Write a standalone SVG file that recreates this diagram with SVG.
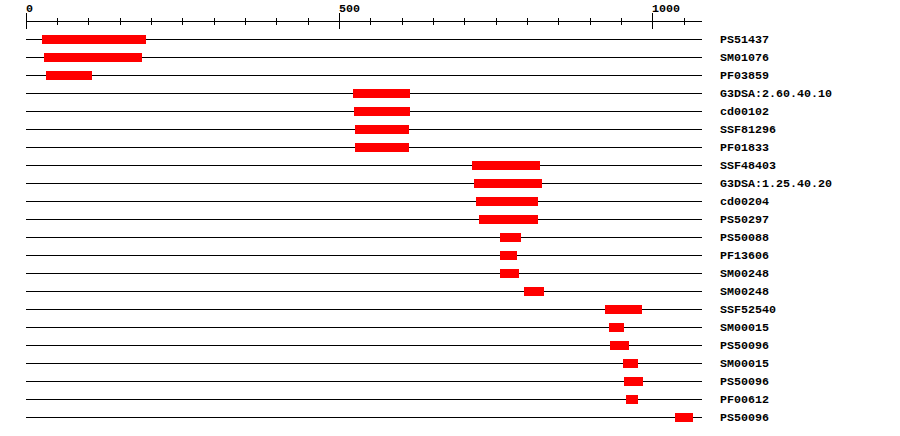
<svg xmlns="http://www.w3.org/2000/svg" width="900" height="436" viewBox="0 0 900 436">
<style>
.t{font-family:"Liberation Mono","DejaVu Sans Mono",monospace;font-weight:bold;font-size:11.67px;fill:#000}
.ln{stroke:#000;stroke-width:1;fill:none}
.bar{fill:#ff0000}
</style>
<rect width="900" height="436" fill="#fff"/>
<g id="axis">
<line class="ln" x1="26" y1="21.5" x2="702" y2="21.5"/>
<path class="ln" d="M26.5 13V29M339.5 13V29M652.5 13V29"/>
<path class="ln" d="M57.5 18V25M88.5 18V25M120.5 18V25M151.5 18V25M182.5 18V25M214.5 18V25M245.5 18V25M276.5 18V25M308.5 18V25M370.5 18V25M402.5 18V25M433.5 18V25M464.5 18V25M496.5 18V25M527.5 18V25M558.5 18V25M590.5 18V25M621.5 18V25M684.5 18V25"/>
<text class="t" x="26" y="11.5">0</text>
<text class="t" x="339" y="11.5">500</text>
<text class="t" x="652" y="11.5">1000</text>
</g>
<g id="connectors">
<path class="ln" d="M26 39.5H702M26 57.5H702M26 75.5H702M26 93.5H702M26 111.5H702M26 129.5H702M26 147.5H702M26 165.5H702M26 183.5H702M26 201.5H702M26 219.5H702M26 237.5H702M26 255.5H702M26 273.5H702M26 291.5H702M26 309.5H702M26 327.5H702M26 345.5H702M26 363.5H702M26 381.5H702M26 399.5H702M26 417.5H702"/>
</g>
<g id="r0"><rect class="bar" x="42" y="35" width="104" height="9"/><text class="t" x="720" y="43">PS51437</text></g>
<g id="r1"><rect class="bar" x="44" y="53" width="98" height="9"/><text class="t" x="720" y="61">SM01076</text></g>
<g id="r2"><rect class="bar" x="46" y="71" width="46" height="9"/><text class="t" x="720" y="79">PF03859</text></g>
<g id="r3"><rect class="bar" x="353" y="89" width="57" height="9"/><text class="t" x="720" y="97">G3DSA:2.60.40.10</text></g>
<g id="r4"><rect class="bar" x="354" y="107" width="56" height="9"/><text class="t" x="720" y="115">cd00102</text></g>
<g id="r5"><rect class="bar" x="355" y="125" width="54" height="9"/><text class="t" x="720" y="133">SSF81296</text></g>
<g id="r6"><rect class="bar" x="355" y="143" width="54" height="9"/><text class="t" x="720" y="151">PF01833</text></g>
<g id="r7"><rect class="bar" x="472" y="161" width="68" height="9"/><text class="t" x="720" y="169">SSF48403</text></g>
<g id="r8"><rect class="bar" x="474" y="179" width="68" height="9"/><text class="t" x="720" y="187">G3DSA:1.25.40.20</text></g>
<g id="r9"><rect class="bar" x="476" y="197" width="62" height="9"/><text class="t" x="720" y="205">cd00204</text></g>
<g id="r10"><rect class="bar" x="479" y="215" width="59" height="9"/><text class="t" x="720" y="223">PS50297</text></g>
<g id="r11"><rect class="bar" x="500" y="233" width="21" height="9"/><text class="t" x="720" y="241">PS50088</text></g>
<g id="r12"><rect class="bar" x="500" y="251" width="17" height="9"/><text class="t" x="720" y="259">PF13606</text></g>
<g id="r13"><rect class="bar" x="500" y="269" width="19" height="9"/><text class="t" x="720" y="277">SM00248</text></g>
<g id="r14"><rect class="bar" x="524" y="287" width="20" height="9"/><text class="t" x="720" y="295">SM00248</text></g>
<g id="r15"><rect class="bar" x="605" y="305" width="37" height="9"/><text class="t" x="720" y="313">SSF52540</text></g>
<g id="r16"><rect class="bar" x="609" y="323" width="15" height="9"/><text class="t" x="720" y="331">SM00015</text></g>
<g id="r17"><rect class="bar" x="610" y="341" width="19" height="9"/><text class="t" x="720" y="349">PS50096</text></g>
<g id="r18"><rect class="bar" x="623" y="359" width="15" height="9"/><text class="t" x="720" y="367">SM00015</text></g>
<g id="r19"><rect class="bar" x="624" y="377" width="19" height="9"/><text class="t" x="720" y="385">PS50096</text></g>
<g id="r20"><rect class="bar" x="626" y="395" width="12" height="9"/><text class="t" x="720" y="403">PF00612</text></g>
<g id="r21"><rect class="bar" x="675" y="413" width="18" height="9"/><text class="t" x="720" y="421">PS50096</text></g>
</svg>
